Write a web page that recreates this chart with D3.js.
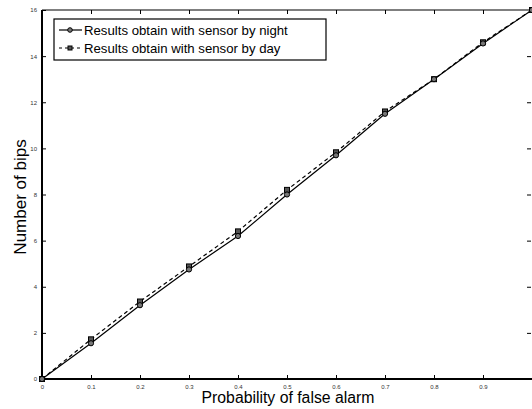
<!DOCTYPE html>
<html>
<head>
<meta charset="UTF-8">
<script src="https://cdn.jsdelivr.net/npm/d3@7/dist/d3.min.js"></script>
<style>
  body { margin: 0; background: #fff; }
  svg { font-family: "Liberation Sans", Arial, sans-serif; }
  .tick text { font-size: 6px; fill: #333; }
</style>
</head>
<body>
<svg id="chart" width="532" height="409"></svg>
<script>
// values
var pfa = [0, 0.1, 0.2, 0.3, 0.4, 0.5, 0.6, 0.7, 0.8, 0.9, 1.0];
var night = [0, 1.55, 3.2, 4.75, 6.2, 8.0, 9.7, 11.5, 13.0, 14.55, 16.0];
var day = [0, 1.72, 3.36, 4.88, 6.4, 8.2, 9.83, 11.6, 13.0, 14.6, 16.0];
var xTicks = [0, 0.1, 0.2, 0.3, 0.4, 0.5, 0.6, 0.7, 0.8, 0.9];
var yTicks = [0, 2, 4, 6, 8, 10, 12, 14, 16];
var names = ["Results obtain with sensor by night", "Results obtain with sensor by day"];

var svg = d3.select("#chart");
var mLeft = 42, mRight = 532, mTop = 10, mBottom = 379;

var x = d3.scaleLinear().domain([0, 1]).range([mLeft, mRight]);
var y = d3.scaleLinear().domain([0, 16]).range([mBottom, mTop]);

// ticks inside the box, matlab style
svg.append("g").attr("transform", "translate(0," + mBottom + ")")
    .call(d3.axisBottom(x).tickValues(xTicks).tickSizeInner(-4).tickSizeOuter(0).tickPadding(6)
        .tickFormat(function (d) { return d === 0 ? "0" : d3.format(".1f")(d); }));
svg.append("g").attr("transform", "translate(" + mLeft + ",0)")
    .call(d3.axisLeft(y).tickValues(yTicks).tickSizeInner(-4).tickSizeOuter(0).tickPadding(5));
svg.append("g").attr("transform", "translate(0," + mTop + ")")
    .call(d3.axisTop(x).tickValues(xTicks.slice(1)).tickSizeInner(-4).tickSizeOuter(0).tickFormat(""));
svg.append("g").attr("transform", "translate(" + (mRight - 1) + ",0)")
    .call(d3.axisRight(y).tickValues(yTicks.slice(1, 8)).tickSizeInner(-4).tickSizeOuter(0).tickFormat(""));

svg.selectAll(".domain").remove();
svg.selectAll(".tick line").attr("stroke", "#000").attr("stroke-width", 1);

// box
svg.append("line").attr("x1", mLeft).attr("x2", mRight).attr("y1", mTop).attr("y2", mTop)
    .attr("stroke", "#000").attr("stroke-width", 1.2);
svg.append("line").attr("x1", mLeft).attr("x2", mRight).attr("y1", mBottom).attr("y2", mBottom)
    .attr("stroke", "#000").attr("stroke-width", 2);
svg.append("line").attr("x1", mLeft).attr("x2", mLeft).attr("y1", mTop).attr("y2", mBottom)
    .attr("stroke", "#000").attr("stroke-width", 2);

var line = d3.line().x(function (d) { return x(d[0]); }).y(function (d) { return y(d[1]); });
var nightPts = d3.zip(pfa, night), dayPts = d3.zip(pfa, day);

svg.append("path").datum(dayPts).attr("d", line).attr("fill", "none")
    .attr("stroke", "#000").attr("stroke-width", 1.2).attr("stroke-dasharray", "4,3");
svg.append("path").datum(nightPts).attr("d", line).attr("fill", "none")
    .attr("stroke", "#000").attr("stroke-width", 1.2);

svg.selectAll(".sq").data(dayPts).enter().append("rect")
    .attr("x", function (d) { return x(d[0]) - 2.5; })
    .attr("y", function (d) { return y(d[1]) - 2.5; })
    .attr("width", 5).attr("height", 5)
    .attr("fill", "#555").attr("stroke", "#000").attr("stroke-width", 1);
svg.selectAll(".ci").data(nightPts).enter().append("circle")
    .attr("cx", function (d) { return x(d[0]); })
    .attr("cy", function (d) { return y(d[1]); })
    .attr("r", 2.6)
    .attr("fill", "#777").attr("stroke", "#000").attr("stroke-width", 1);

// legend
var lg = svg.append("g");
lg.append("rect").attr("x", 54).attr("y", 19).attr("width", 272).attr("height", 41)
    .attr("fill", "#fff").attr("stroke", "#000").attr("stroke-width", 1.2);
[0, 1].forEach(function (i) {
    var yy = 30 + i * 18;
    lg.append("line").attr("x1", 59).attr("x2", 82).attr("y1", yy).attr("y2", yy)
        .attr("stroke", "#000").attr("stroke-width", 1.2)
        .attr("stroke-dasharray", i ? "3,3" : null);
    if (i) {
        lg.append("rect").attr("x", 68).attr("y", yy - 2).attr("width", 4).attr("height", 4)
            .attr("fill", "#555").attr("stroke", "#000");
    } else {
        lg.append("circle").attr("cx", 70).attr("cy", yy).attr("r", 2.3)
            .attr("fill", "#777").attr("stroke", "#000");
    }
    lg.append("text").attr("x", 84).attr("y", yy + 4.7).attr("font-size", 13.2).text(names[i]);
});

// axis titles
svg.append("text").attr("x", 288).attr("y", 403).attr("text-anchor", "middle")
    .attr("font-size", 15.8).text("Probability of false alarm");
svg.append("text").attr("transform", "translate(25.5,197) rotate(-90)").attr("text-anchor", "middle")
    .attr("font-size", 17).text("Number of bips");
</script>
</body>
</html>
